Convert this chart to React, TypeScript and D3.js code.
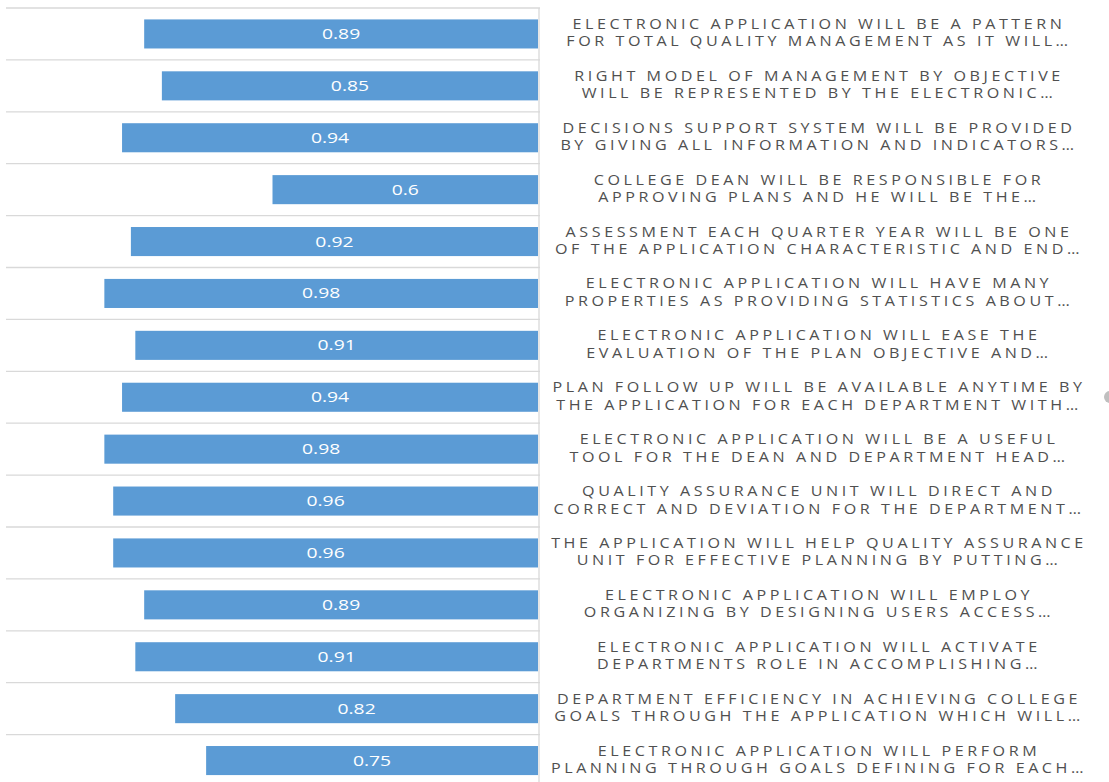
import React from "react";
import * as d3 from "d3";

const width = 1109;
const height = 782;
const plot = { left: 7, right: 538, top: 8, band: 51.9 };

// categories (two wrapped lines each, as in the source chart)
const lineOne = [
  "ELECTRONIC APPLICATION WILL BE A PATTERN",
  "RIGHT MODEL OF MANAGEMENT BY OBJECTIVE",
  "DECISIONS SUPPORT SYSTEM WILL BE PROVIDED",
  "COLLEGE DEAN WILL BE RESPONSIBLE FOR",
  "ASSESSMENT EACH QUARTER YEAR WILL BE ONE",
  "ELECTRONIC APPLICATION WILL HAVE MANY",
  "ELECTRONIC APPLICATION WILL EASE THE",
  "PLAN FOLLOW UP WILL BE AVAILABLE ANYTIME BY",
  "ELECTRONIC APPLICATION WILL BE A USEFUL",
  "QUALITY ASSURANCE UNIT WILL DIRECT AND",
  "THE APPLICATION WILL HELP QUALITY ASSURANCE",
  "ELECTRONIC APPLICATION WILL EMPLOY",
  "ELECTRONIC APPLICATION WILL ACTIVATE",
  "DEPARTMENT EFFICIENCY IN ACHIEVING COLLEGE",
  "ELECTRONIC APPLICATION WILL PERFORM",
];
const lineTwo = [
  "FOR TOTAL QUALITY MANAGEMENT AS IT WILL…",
  "WILL BE REPRESENTED BY THE ELECTRONIC…",
  "BY GIVING ALL INFORMATION AND INDICATORS…",
  "APPROVING PLANS AND HE WILL BE THE…",
  "OF THE APPLICATION CHARACTERISTIC AND END…",
  "PROPERTIES AS PROVIDING STATISTICS ABOUT…",
  "EVALUATION OF THE PLAN OBJECTIVE AND…",
  "THE APPLICATION FOR EACH DEPARTMENT WITH…",
  "TOOL FOR THE DEAN AND DEPARTMENT HEAD…",
  "CORRECT AND DEVIATION FOR THE DEPARTMENT…",
  "UNIT FOR EFFECTIVE PLANNING BY PUTTING…",
  "ORGANIZING BY DESIGNING USERS ACCESS…",
  "DEPARTMENTS ROLE IN ACCOMPLISHING…",
  "GOALS THROUGH THE APPLICATION WHICH WILL…",
  "PLANNING THROUGH GOALS DEFINING FOR EACH…",
];
const values = [0.89, 0.85, 0.94, 0.6, 0.92, 0.98, 0.91, 0.94, 0.98, 0.96, 0.96, 0.89, 0.91, 0.82, 0.75];

const ids = values.map((v, i) => i);
const labelX = 819;

export default function App() {
  // bars grow leftwards from the axis at the right of the plot
  const xScale = d3.scaleLinear().domain([0, 1.2]).range([plot.right, plot.left]);
  const yScale = d3
    .scaleBand<number>()
    .domain(ids)
    .range([plot.top, plot.top + plot.band * ids.length])
    .paddingInner(0.44)
    .paddingOuter(0.22);
  const step = yScale.step();

  return (
    <svg
      width={width}
      height={height}
      style={{ position: "absolute", left: 0, top: 0, background: "#fff" }}
    >
      {ids.map((i) => {
        const gy = plot.top + i * step;
        return (
          <line
            key={"g" + i}
            x1={6}
            x2={plot.right + 2}
            y1={gy}
            y2={gy}
            stroke="#d9d9d9"
            strokeWidth={1.3}
          />
        );
      })}
      <line x1={plot.right + 1} x2={plot.right + 1} y1={plot.top} y2={height} stroke="#d9d9d9" strokeWidth={1.3} />
      {values.map((v, i) => {
        const y = yScale(i)!;
        const x0 = xScale(v);
        const cx = (x0 + plot.right) / 2;
        return (
          <g key={"b" + i}>
            <rect x={x0} y={y} width={plot.right - x0} height={yScale.bandwidth()} fill="#5b9bd5" />
            <text
              transform={`translate(${cx},${y + yScale.bandwidth() / 2 + 5}) scale(1.38,1)`}
              textAnchor="middle"
              fill="#fff"
              fontFamily="'Open Sans', sans-serif"
              fontSize={14}
            >
              {v}
            </text>
          </g>
        );
      })}
      {ids.map((i) => {
        const cy = plot.top + i * step + step / 2;
        return (
          <text
            key={"l" + i}
            transform={`translate(${labelX},${cy}) scale(1.15,1)`}
            textAnchor="middle"
            fill="#505050"
            fontFamily="'Open Sans', sans-serif"
            fontSize={14}
            letterSpacing={3.1}
          >
            <tspan x={0} y={-5}>{lineOne[i]}</tspan>
            <tspan x={0} y={12.5}>{lineTwo[i]}</tspan>
          </text>
        );
      })}
      {/* resize handle fragment at the right edge */}
      <circle cx={width + 1} cy={397} r={6} fill="#bfbfbf" />
    </svg>
  );
}
